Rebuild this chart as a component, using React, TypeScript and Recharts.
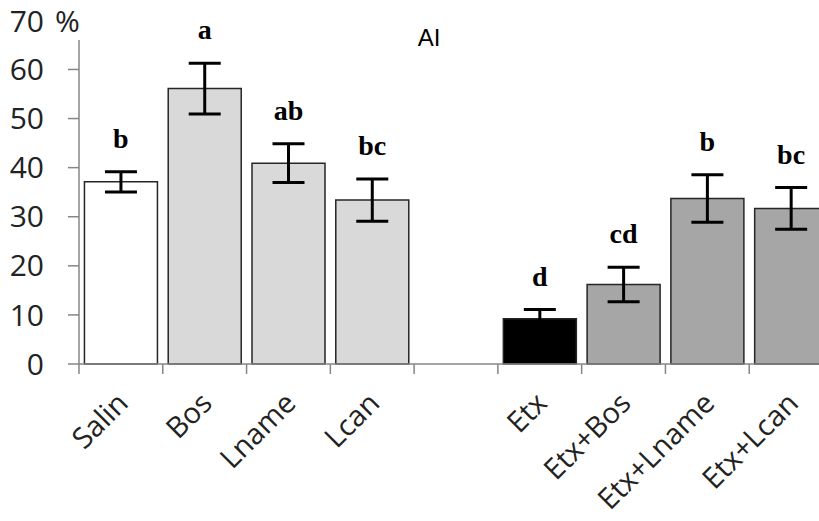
import React from "react";
import {
  ComposedChart,
  Bar,
  Cell,
  ErrorBar,
  Line,
  LabelList,
  ReferenceLine,
  XAxis,
  YAxis,
} from "recharts";

// groups (the empty one is the gap between the two blocks)
const categories = ["Salin", "Bos", "Lname", "Lcan", "", "Etx", "Etx+Bos", "Etx+Lname", "Etx+Lcan"];
const means = [37.1, 56.1, 40.9, 33.4, null, 9.2, 16.2, 33.7, 31.7];
const errors = [2.05, 5.15, 3.95, 4.3, null, 1.9, 3.5, 4.85, 4.25];
const letters = ["b", "a", "ab", "bc", "", "d", "cd", "b", "bc"];
const yTicks = [0, 10, 20, 30, 40, 50, 60];

const barColors = ["#ffffff", "#d9d9d9", "#d9d9d9", "#d9d9d9", "#ffffff", "#000000", "#a6a6a6", "#a6a6a6", "#a6a6a6"];

const data = categories.map((name, i) => ({
  name,
  mean: means[i],
  err: errors[i],
  top: means[i] != null && errors[i] != null ? means[i]! + errors[i]! : null,
  letter: letters[i],
}));

const AXIS = "#868686";
const TEXT = "#222222";

// category names turned 45°
function CategoryTick(props: any) {
  const { x, y, payload } = props;
  if (!payload.value) return null;
  const ax = x + 9;
  const ay = y + 41;
  return (
    <text
      x={ax}
      y={ay}
      textAnchor="end"
      transform={`rotate(-45, ${ax}, ${ay})`}
      fontFamily="'Open Sans'"
      fontSize={29}
      fill={TEXT}
    >
      {payload.value}
    </text>
  );
}

export default function App() {
  return (
    <div
      style={{
        position: "absolute",
        left: 0,
        top: 0,
        width: 819,
        height: 521,
        overflow: "hidden",
        background: "#fff",
      }}
    >
      <ComposedChart
        width={833}
        height={521}
        data={data}
        barCategoryGap="6.5%"
        margin={{ top: 40, right: 0, bottom: 0, left: 0 }}
      >
        <XAxis
          dataKey="name"
          interval={0}
          height={157}
          tickSize={0}
          tickMargin={0}
          tickLine={false}
          axisLine={{ stroke: AXIS, strokeWidth: 1.5 }}
          tick={<CategoryTick />}
        />
        <YAxis
          domain={[0, 66]}
          ticks={yTicks}
          width={79}
          tickSize={11}
          tickMargin={24}
          axisLine={{ stroke: AXIS, strokeWidth: 1.5 }}
          tickLine={{ stroke: AXIS, strokeWidth: 1.5 }}
          tick={{ fontFamily: "'Open Sans'", fontSize: 30, fill: TEXT }}
        />
        {/* tick marks on the left edge of every category */}
        {categories.map((c, i) => (
          <ReferenceLine
            key={"edge" + i}
            segment={[
              { x: c, y: 0 },
              { x: c, y: -2.04 },
            ]}
            position="start"
            ifOverflow="visible"
            stroke={AXIS}
            strokeWidth={1.5}
          />
        ))}
        <Bar dataKey="mean" stroke="#262626" strokeWidth={1.5} isAnimationActive={false}>
          {data.map((d, i) => (
            <Cell key={d.name + i} fill={barColors[i]} />
          ))}
          <ErrorBar dataKey="err" width={16} strokeWidth={3} stroke="#000" direction="y" />
        </Bar>
        <Line
          dataKey="top"
          stroke="none"
          dot={false}
          activeDot={false}
          legendType="none"
          isAnimationActive={false}
        >
          <LabelList
            dataKey="letter"
            position="top"
            offset={24}
            fontFamily="'Liberation Serif'"
            fontWeight="bold"
            fontSize={28}
            fill="#000"
          />
        </Line>
        <text x={429} y={46} textAnchor="middle" fontFamily="'Liberation Sans'" fontSize={24} fill="#000">
          AI
        </text>
        <text x={44} y={32} textAnchor="end" fontFamily="'Open Sans'" fontSize={30} fill={TEXT}>
          70
        </text>
        <text x={55} y={32} textAnchor="start" fontFamily="'Open Sans'" fontSize={30} fill={TEXT}>
          %
        </text>
      </ComposedChart>
    </div>
  );
}
